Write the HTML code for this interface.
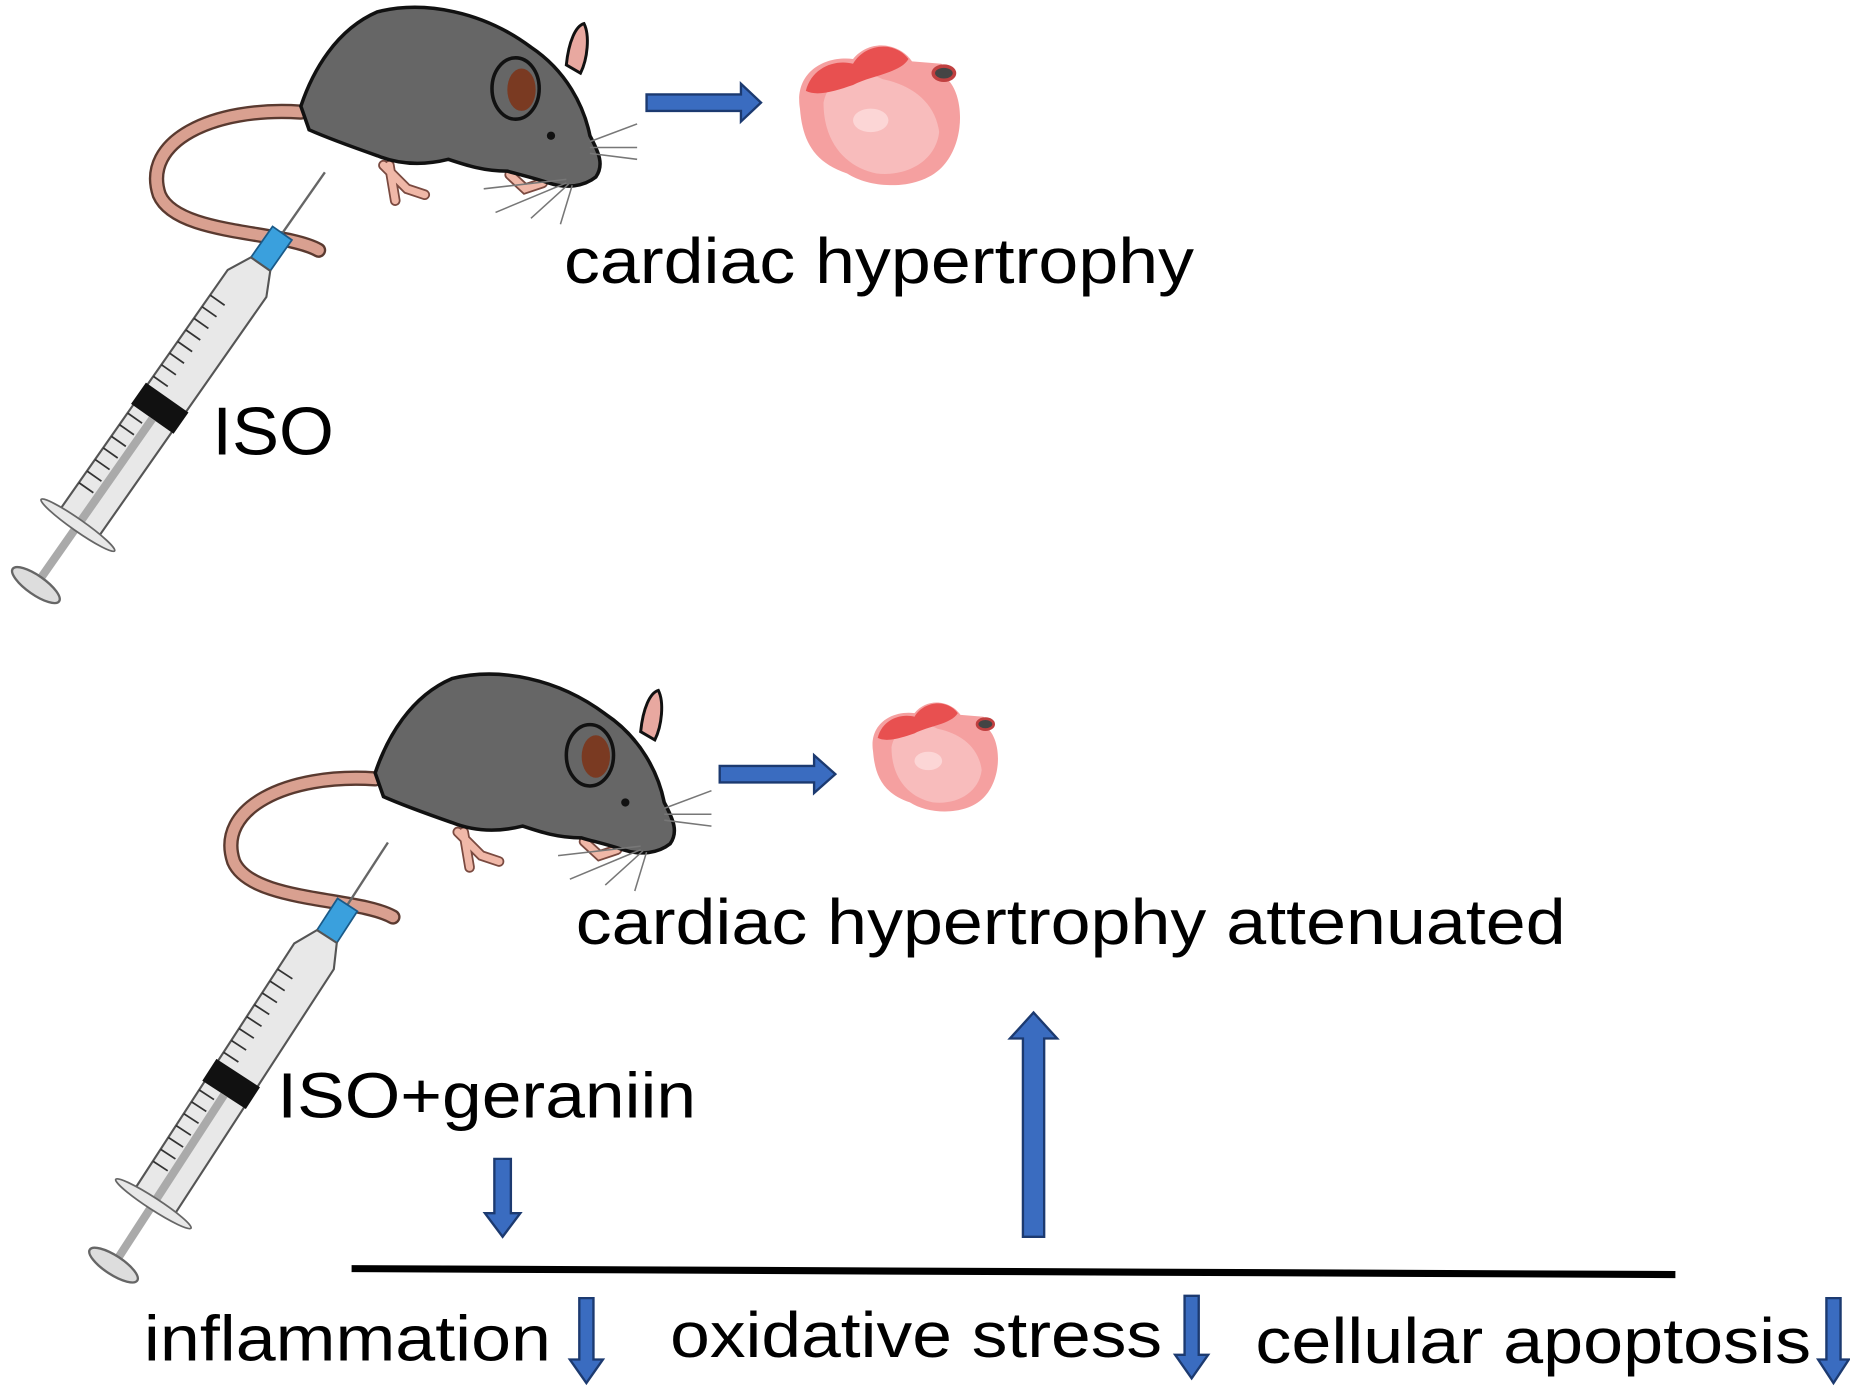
<!DOCTYPE html>
<html><head><meta charset="utf-8"><style>
html,body{margin:0;padding:0;background:#fff;}
svg{display:block;}
text{font-family:"Liberation Sans",Arial,sans-serif;fill:#000;}
</style></head><body>
<svg width="1850" height="1389" viewBox="0 0 1568 1177" preserveAspectRatio="none">
<defs>
<g id="mouse">
  <path d="M255,95 C180,90 120,120 135,165 C150,200 240,195 270,212" fill="none" stroke="#5a3a30" stroke-width="13" stroke-linecap="round"/>
  <path d="M255,95 C180,90 120,120 135,165 C150,200 240,195 270,212" fill="none" stroke="#d9a090" stroke-width="9" stroke-linecap="round"/>
  <path d="M325,140 L345,160 L360,165 M330,140 L335,170" stroke="#7a4a40" stroke-width="9" fill="none" stroke-linecap="round"/>
  <path d="M325,140 L345,160 L360,165 M330,140 L335,170" stroke="#f0b8a8" stroke-width="6" fill="none" stroke-linecap="round"/>
  <path d="M432,148 L445,160 L460,155" stroke="#7a4a40" stroke-width="9" fill="none" stroke-linecap="round"/>
  <path d="M432,148 L445,160 L460,155" stroke="#f0b8a8" stroke-width="6" fill="none" stroke-linecap="round"/>
  <path d="M255,90 C265,60 285,25 320,10 C360,0 410,10 450,40 C480,60 495,90 500,115 C508,130 512,140 505,150 C495,158 480,160 465,155 C450,150 440,148 430,145 C410,145 395,140 380,135 C360,140 340,140 320,132 C300,125 280,118 262,110 Z" fill="#666" stroke="#111" stroke-width="3"/>
  <path d="M480,55 C482,35 488,22 495,20 C500,30 498,50 492,62 Z" fill="#e8a8a0" stroke="#111" stroke-width="2.5"/>
  <ellipse cx="437" cy="75" rx="20" ry="26" fill="#666" stroke="#111" stroke-width="3"/>
  <ellipse cx="442" cy="76" rx="12" ry="18" fill="#7a3a22"/>
  <circle cx="467" cy="115" r="3.5" fill="#111"/>
  <g stroke="#777" stroke-width="1.3">
    <line x1="500" y1="120" x2="540" y2="105"/><line x1="500" y1="125" x2="540" y2="125"/><line x1="500" y1="130" x2="540" y2="135"/>
    <line x1="480" y1="152" x2="410" y2="160"/><line x1="480" y1="155" x2="420" y2="180"/><line x1="482" y1="156" x2="450" y2="185"/><line x1="485" y1="157" x2="475" y2="190"/>
  </g>
</g>
<g id="heart">
  <path d="M0,50 C-5,20 20,5 45,8 C60,-10 85,-5 95,10 L120,12 L125,25 C140,40 140,80 120,100 C100,120 60,118 40,105 C10,95 2,75 0,50 Z" fill="#f5a0a0"/>
  <path d="M20,45 C25,20 50,15 70,25 C95,30 115,45 118,70 C115,95 90,108 65,105 C40,100 20,80 20,45 Z" fill="#f8bcbc"/>
  <path d="M5,35 C10,15 30,8 45,12 C55,-5 80,-8 92,8 C85,20 60,22 45,30 C30,35 15,40 5,35 Z" fill="#e85050"/>
  <ellipse cx="122" cy="20" rx="9" ry="6" fill="#444" stroke="#c04040" stroke-width="3"/>
  <ellipse cx="60" cy="60" rx="15" ry="10" fill="#fcd6d6"/>
</g>
<g id="syr">
  <line x1="300" y1="0" x2="365" y2="0" stroke="#666" stroke-width="2"/>
  <rect x="270" y="-10" width="32" height="20" fill="#3aa0dd" stroke="#1a5a88" stroke-width="1.5"/>
  <path d="M0,-20 L250,-20 L270,-10 L270,10 L250,20 L0,20 Z" fill="#e8e8e8" stroke="#555" stroke-width="1.8"/>
  <g stroke="#333" stroke-width="1.5">
    <line x1="30" y1="-20" x2="30" y2="-5"/><line x1="42" y1="-20" x2="42" y2="-5"/><line x1="54" y1="-20" x2="54" y2="-5"/><line x1="66" y1="-20" x2="66" y2="-5"/><line x1="78" y1="-20" x2="78" y2="-5"/><line x1="90" y1="-20" x2="90" y2="-5"/><line x1="102" y1="-20" x2="102" y2="-5"/>
    <line x1="140" y1="-20" x2="140" y2="-5"/><line x1="152" y1="-20" x2="152" y2="-5"/><line x1="164" y1="-20" x2="164" y2="-5"/><line x1="176" y1="-20" x2="176" y2="-5"/><line x1="188" y1="-20" x2="188" y2="-5"/><line x1="200" y1="-20" x2="200" y2="-5"/><line x1="212" y1="-20" x2="212" y2="-5"/><line x1="224" y1="-20" x2="224" y2="-5"/>
  </g>
  <rect x="110" y="-22" width="22" height="44" fill="#111"/>
  <line x1="-60" y1="0" x2="110" y2="0" stroke="#aaa" stroke-width="7"/>
  <ellipse cx="0" cy="0" rx="5" ry="38" fill="#e8e8e8" stroke="#666" stroke-width="1.5"/>
  <ellipse cx="-62" cy="0" rx="8" ry="24" fill="#ddd" stroke="#666" stroke-width="2"/>
</g>
</defs>

<use href="#mouse"/>
<use href="#mouse" transform="translate(63,565)"/>

<g transform="translate(66,445) rotate(-55)"><use href="#syr"/></g>
<g transform="translate(130,1020) rotate(-57)"><use href="#syr"/></g>

<path d="M548,80 L628,80 L628,71 L645,87 L628,103 L628,94 L548,94 Z" fill="#3a6cc0" stroke="#1c3a70" stroke-width="2"/>
<path d="M610,649 L690,649 L690,640 L708,656 L690,672 L690,663 L610,663 Z" fill="#3a6cc0" stroke="#1c3a70" stroke-width="2"/>

<g transform="translate(678,42)"><use href="#heart"/></g>
<g transform="translate(740,598) scale(0.78)"><use href="#heart"/></g>

<text x="478" y="240" font-size="54" textLength="534" lengthAdjust="spacingAndGlyphs">cardiac hypertrophy</text>
<text x="180" y="385" font-size="57" textLength="103" lengthAdjust="spacingAndGlyphs">ISO</text>
<text x="488" y="800" font-size="54" textLength="839" lengthAdjust="spacingAndGlyphs">cardiac hypertrophy attenuated</text>
<text x="235" y="947" font-size="54" textLength="355" lengthAdjust="spacingAndGlyphs">ISO+geraniin</text>

<path d="M419,982 L433,982 L433,1028 L441,1028 L426,1048 L411,1028 L419,1028 Z" fill="#3a6cc0" stroke="#1c3a70" stroke-width="2"/>
<path d="M867,1048 L885,1048 L885,880 L896,880 L876,858 L856,880 L867,880 Z" fill="#3a6cc0" stroke="#1c3a70" stroke-width="2"/>

<line x1="298" y1="1075" x2="1420" y2="1080" stroke="#000" stroke-width="6"/>

<text x="122" y="1153" font-size="54" textLength="345" lengthAdjust="spacingAndGlyphs">inflammation</text>
<text x="568" y="1150" font-size="54" textLength="417" lengthAdjust="spacingAndGlyphs">oxidative stress</text>
<text x="1064" y="1155" font-size="54" textLength="471" lengthAdjust="spacingAndGlyphs">cellular apoptosis</text>

<path d="M491,1100 L503,1100 L503,1152 L511,1152 L497,1172 L483,1152 L491,1152 Z" fill="#3a6cc0" stroke="#1c3a70" stroke-width="2"/>
<path d="M1004,1098 L1016,1098 L1016,1148 L1024,1148 L1010,1168 L996,1148 L1004,1148 Z" fill="#3a6cc0" stroke="#1c3a70" stroke-width="2"/>
<path d="M1548,1100 L1560,1100 L1560,1152 L1567,1152 L1554,1172 L1541,1152 L1548,1152 Z" fill="#3a6cc0" stroke="#1c3a70" stroke-width="2"/>
</svg>
</body></html>
